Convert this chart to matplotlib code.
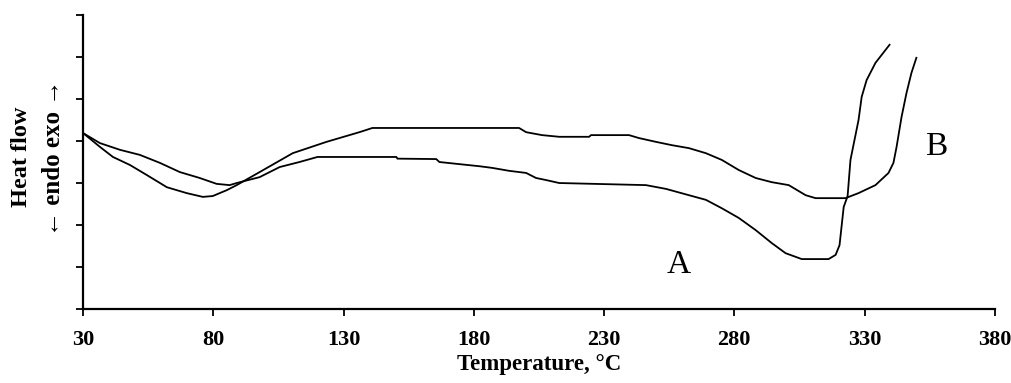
import matplotlib.pyplot as plt

# DSC curves (temperature in C, heat flow in arbitrary units)
temp_a = [30.0, 36.5, 44.2, 51.8, 59.5, 67.2, 74.8, 81.3, 86.3, 89.0, 97.8, 105.5,
          113.1, 120.0, 150.3, 150.7, 165.6, 166.8, 174.4, 182.1, 187.1, 193.6,
          200.1, 203.9, 207.8, 212.8, 246.1, 253.8, 262.6, 269.1, 275.2, 281.7,
          288.2, 294.4, 299.7, 305.9, 316.2, 318.9, 320.4, 322.0, 323.5, 324.6,
          327.7, 328.9, 330.8, 334.2, 339.6]
flow_a = [4.19, 3.95, 3.79, 3.67, 3.48, 3.26, 3.12, 2.98, 2.95, 3.00, 3.14, 3.38,
          3.50, 3.62, 3.62, 3.58, 3.57, 3.50, 3.45, 3.40, 3.36, 3.29,
          3.24, 3.12, 3.07, 3.00, 2.95, 2.86, 2.71, 2.60, 2.40, 2.17,
          1.88, 1.57, 1.33, 1.19, 1.19, 1.29, 1.52, 2.43, 2.69, 3.55,
          4.50, 5.05, 5.45, 5.86, 6.29]

temp_b = [30.0, 36.5, 41.5, 48.0, 54.5, 62.2, 69.8, 76.0, 79.8, 85.2, 89.0, 97.8,
          110.5, 123.5, 136.1, 141.1, 197.4, 200.1, 206.2, 212.8, 224.3, 225.0,
          239.6, 243.4, 249.9, 256.1, 262.6, 269.1, 275.2, 281.7, 288.2, 294.4,
          300.9, 307.4, 311.2, 322.7, 327.7, 334.2, 339.2, 341.1, 342.3, 344.2,
          346.1, 348.0, 349.9]
flow_b = [4.19, 3.86, 3.62, 3.43, 3.19, 2.90, 2.76, 2.67, 2.69, 2.83, 2.95, 3.26,
          3.71, 3.98, 4.21, 4.31, 4.31, 4.21, 4.14, 4.10, 4.10, 4.14,
          4.14, 4.07, 3.98, 3.90, 3.83, 3.71, 3.55, 3.31, 3.12, 3.02,
          2.95, 2.71, 2.64, 2.64, 2.76, 2.95, 3.24, 3.48, 3.86, 4.57,
          5.14, 5.62, 5.98]

xticks = [30, 80, 130, 180, 230, 280, 330, 380]

serif = ['Liberation Serif', 'DejaVu Serif']

fig = plt.figure(figsize=(10.12, 3.83), dpi=100)
ax = fig.add_axes([0.082, 0.193, 0.901, 0.768])

ax.plot(temp_a, flow_a, color='black', lw=1.3)
ax.plot(temp_b, flow_b, color='black', lw=1.3)

ax.text(258.7, 1.05, 'A', fontsize=24, family=serif, ha='center', va='center')
ax.text(357.5, 3.86, 'B', fontsize=24, family=serif, ha='center', va='center')

ax.set_xlim(30, 380)
ax.set_ylim(0, 7)
ax.set_xticks(xticks)
ax.set_xticklabels([str(t) for t in xticks], fontsize=16, fontweight='bold', family=serif)
ax.set_yticks(range(0, 8))
ax.set_yticklabels([])
ax.tick_params(direction='out', length=5, width=1.3, color='black', pad=10)

for s in ['top', 'right']:
    ax.spines[s].set_visible(False)
for s in ['left', 'bottom']:
    ax.spines[s].set_linewidth(1.6)

ax.set_xlabel('Temperature, °C', fontsize=16.5, fontweight='bold', family=serif, labelpad=3)

# y label written as two rotated lines beside the axis
fig.text(22 / 1012, 1 - 157 / 383, 'Heat flow', rotation=90, fontsize=17.5,
         fontweight='bold', family=serif, ha='center', va='center')
fig.text(54 / 1012, 1 - 158 / 383, '\u2190 endo exo \u2192', rotation=90, fontsize=18,
         fontweight='bold', family=serif, ha='center', va='center')

fig.savefig('out.png', dpi=100)
